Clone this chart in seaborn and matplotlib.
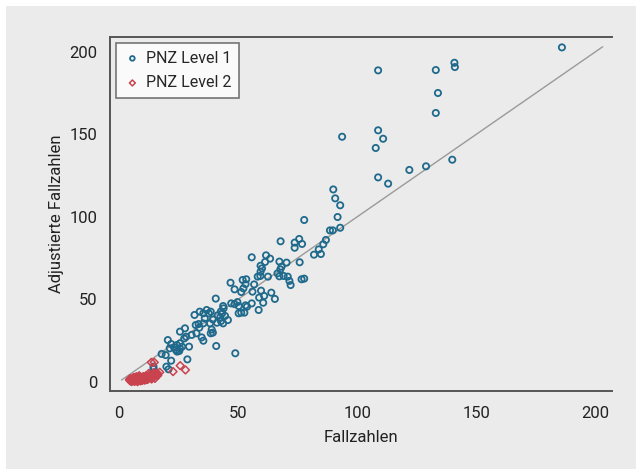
import numpy as np
import pandas as pd
import seaborn as sns
import matplotlib.pyplot as plt
from matplotlib.patches import Rectangle

# PNZ Level 1 (Fallzahlen, adjustierte Fallzahlen)
lvl1_x = [185.9, 108.8, 133.0, 140.8, 141.0, 133.9, 133.0, 108.8, 93.7, 110.9,
          107.8, 139.9, 128.9, 121.9, 108.8, 113.0, 90.0, 90.8, 92.9, 77.8,
          91.8, 88.6, 89.8, 92.9, 86.9, 85.8, 83.9, 84.8, 81.9, 67.9,
          75.7, 73.8, 76.9, 73.8, 75.9, 76.7, 77.8, 55.8, 61.8, 63.5,
          61.4, 59.5, 60.1, 59.5, 59.4, 58.3, 62.6, 67.4, 68.3, 67.8,
          66.6, 67.4, 69.2, 70.4, 70.9, 71.6, 72.1, 53.2, 56.8, 52.0,
          53.5, 46.9, 52.3, 48.6, 51.4, 56.1, 59.7, 64.0, 61.0, 58.9,
          60.6, 65.5, 55.8, 53.2, 53.8, 51.4, 52.7, 50.3, 47.2, 48.6,
          49.8, 50.3, 58.7, 48.9, 40.9, 40.7, 43.8, 44.0, 42.9, 43.4,
          41.5, 42.6, 44.6, 45.8, 42.9, 43.8, 41.2, 39.5, 37.8, 38.6,
          36.9, 35.5, 36.1, 38.3, 39.0, 38.6, 39.5, 34.0, 31.8, 33.5,
          33.8, 32.3, 35.5, 32.6, 34.8, 35.5, 30.6, 28.3, 27.5, 27.8,
          25.7, 29.5, 28.8, 25.7, 24.4, 26.6, 25.7, 23.2, 24.0, 25.4,
          24.5, 21.4, 20.6, 22.0, 18.0, 19.7, 22.0, 20.0, 20.9, 14.6,
          14.6]
lvl1_y = [202.6, 188.7, 188.9, 193.3, 190.7, 175.0, 162.9, 152.4, 148.5, 147.3,
          141.7, 134.6, 130.6, 128.4, 123.9, 120.1, 116.6, 111.2, 107.0, 98.1,
          99.9, 91.8, 91.8, 93.4, 86.0, 83.4, 80.3, 77.5, 77.1, 85.2,
          86.6, 84.4, 83.6, 81.3, 72.5, 62.2, 62.6, 75.5, 76.7, 74.7,
          72.7, 70.4, 68.8, 66.8, 64.2, 63.8, 63.8, 72.9, 69.8, 68.2,
          65.8, 64.0, 64.2, 72.3, 63.8, 61.2, 58.7, 59.3, 59.1, 61.8,
          62.2, 60.1, 56.7, 56.1, 54.5, 54.7, 55.3, 54.1, 52.1, 51.1,
          48.0, 50.3, 47.6, 46.4, 45.6, 42.0, 42.0, 41.6, 47.6, 47.2,
          48.4, 46.0, 43.6, 17.4, 21.8, 50.5, 46.0, 44.6, 42.8, 41.6,
          40.4, 39.2, 40.0, 37.5, 36.9, 35.5, 35.9, 37.9, 41.6, 42.6,
          43.6, 41.6, 38.5, 35.5, 31.8, 29.5, 29.9, 42.6, 40.6, 35.1,
          32.9, 34.5, 35.5, 29.5, 27.0, 25.0, 28.5, 27.4, 26.4, 32.5,
          30.5, 21.4, 13.7, 23.4, 22.4, 21.4, 20.4, 21.0, 19.4, 18.8,
          18.4, 20.4, 25.4, 23.0, 17.0, 16.3, 12.9, 9.3, 7.7, 9.3,
          7.9]

# PNZ Level 2
lvl2_x = [4.5, 5.0, 5.3, 5.8, 6.0, 6.2, 6.5, 6.8, 7.0, 7.2, 7.5, 7.8, 8.0, 8.2,
          8.5, 8.8, 9.0, 9.3, 9.6, 10.0, 10.3, 10.6, 11.0, 11.3, 11.7, 12.0,
          12.4, 12.8, 13.2, 13.6, 14.0, 14.5, 15.0, 15.5, 16.0, 5.5, 6.6, 7.4,
          8.6, 9.8, 11.5, 12.6, 13.8, 15.2, 16.4, 4.8, 6.3, 7.9, 9.1, 10.8,
          12.2, 13.4, 14.8,
          13.7, 14.9, 25.8, 28.0, 22.8, 17.2, 16.3]
lvl2_y = [1.2, 0.5, 1.8, 0.8, 2.2, 1.0, 1.5, 0.6, 2.5, 1.3, 1.9, 0.9, 2.8, 1.6,
          2.1, 1.2, 3.0, 2.0, 1.5, 2.6, 3.3, 1.8, 2.4, 3.6, 2.0, 3.0, 2.6, 4.2,
          3.2, 2.4, 4.5, 3.5, 4.8, 3.8, 5.0, 0.3, 0.4, 3.2, 3.8, 0.9, 1.4, 5.2,
          1.8, 2.2, 4.0, 2.0, 2.8, 0.2, 0.7, 1.1, 1.6, 3.9, 5.8,
          11.9, 11.9, 9.9, 7.3, 6.3, 5.9, 5.2]

labels = ["PNZ Level 1", "PNZ Level 2"]
blue = "#1f6a8c"
red = "#c9434f"
bg = "#ebebeb"
dark = "#555555"

df1 = pd.DataFrame({"x": lvl1_x, "y": lvl1_y})
df2 = pd.DataFrame({"x": lvl2_x, "y": lvl2_y})

sns.set_style("white")
plt.rcParams["font.family"] = ["Roboto", "DejaVu Sans"]

fig = plt.figure(figsize=(6.42, 4.75), dpi=100, facecolor="white")
fig.patches.append(Rectangle((6 / 642, 6 / 475), 1 - 12 / 642, 1 - 12 / 475,
                             transform=fig.transFigure, facecolor=bg,
                             edgecolor="none", zorder=-10))
ax = fig.add_axes([110 / 642, 1 - 391 / 475, 502 / 642, 354 / 475])
ax.set_facecolor(bg)

# identity line
ax.plot([1.2, 203], [1.2, 203], color="#9a9a9a", lw=1.0, zorder=1)

sns.scatterplot(data=df1, x="x", y="y", ax=ax, marker="o", s=20,
                facecolor="none", edgecolor=blue, linewidth=1.3,
                label=labels[0], zorder=3)
sns.scatterplot(data=df2, x="x", y="y", ax=ax, marker="D", s=16,
                facecolor="none", edgecolor=red, linewidth=1.1,
                label=labels[1], zorder=3)

ax.set_xlim(-3.65, 206.9)
ax.set_ylim(-5.45, 208.9)
ax.set_xticks([0, 50, 100, 150, 200])
ax.set_yticks([0, 50, 100, 150, 200])
ax.tick_params(axis="both", direction="out", length=5, width=1.0,
               color=dark, labelsize=12, labelcolor="#222222", pad=4)
ax.tick_params(axis="x", pad=6)
for side in ["left", "bottom", "top"]:
    ax.spines[side].set_visible(True)
    ax.spines[side].set_color(dark)
    ax.spines[side].set_linewidth(1.4)
ax.spines["right"].set_visible(False)

ax.set_xlabel("Fallzahlen", fontsize=12, color="#222222", labelpad=6)
ax.set_ylabel("Adjustierte Fallzahlen", fontsize=12, color="#222222", labelpad=4)

leg = ax.legend(loc="upper left", fontsize=11.5, frameon=True, fancybox=False,
                borderaxespad=0.35, handletextpad=0.3, borderpad=0.5,
                labelspacing=0.6, handlelength=1.1, markerscale=0.75)
leg.get_frame().set_edgecolor(dark)
leg.get_frame().set_linewidth(1.2)
leg.get_frame().set_facecolor("white")

fig.savefig("out.png", dpi=100, facecolor="white")
